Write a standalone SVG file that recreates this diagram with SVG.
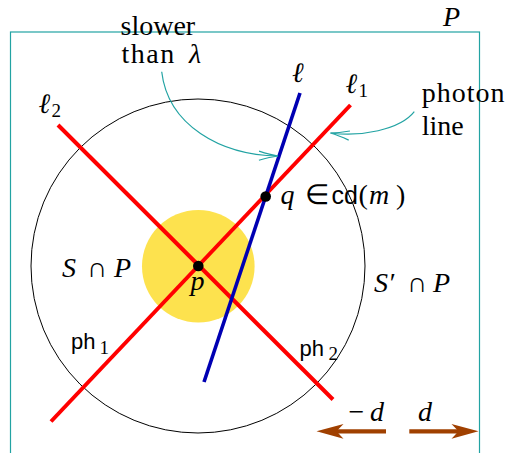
<svg xmlns="http://www.w3.org/2000/svg" width="509" height="453" viewBox="0 0 509 453">
<style>
.sf{font-family:'Liberation Serif','Times New Roman',serif;fill:#000}
.ss{font-family:'Liberation Sans',Arial,sans-serif;fill:#000}
.it{font-style:italic}
.teal{fill:none;stroke:#22a3a3;stroke-width:1.2}
.red{stroke:#ff0000;stroke-width:4;fill:none}
.blue{stroke:#0000b3;stroke-width:3.6;fill:none}
.brown{stroke:#a04000;stroke-width:4.2;fill:none}
.head{fill:#a04000}
.dot{fill:#000}
</style>
<defs>
<marker id="tealhead" markerUnits="userSpaceOnUse" markerWidth="30" markerHeight="20" viewBox="-22 -10 30 20" refX="0" refY="0" orient="auto">
<path d="M-19,-4.6 Q-8,-1.2 0,0 Q-8,1.2 -19,4.6" fill="none" stroke="#22a3a3" stroke-width="1.2"/>
</marker>
</defs>
<rect width="509" height="453" fill="#fff"/>

<g id="plane">
<rect x="10.5" y="32" width="469" height="440" fill="none" stroke="#22a3a3" stroke-width="1.2"/>
<text class="sf it" x="443" y="26" font-size="28">P</text>
</g>

<g id="outer-circle">
<circle cx="198" cy="266" r="167" fill="none" stroke="#000" stroke-width="1"/>
<text class="sf" y="277.3" font-size="28"><tspan class="it" x="62">S</tspan><tspan x="87">∩</tspan><tspan class="it" x="114">P</tspan></text>
<text class="sf" y="291.7" font-size="28"><tspan class="it" x="374">S′</tspan><tspan x="407">∩</tspan><tspan class="it" x="433">P</tspan></text>
</g>

<g id="inner-disc">
<circle cx="198.3" cy="266.3" r="56.3" fill="#fde24e"/>
</g>

<g id="connectors">
<line id="l1" class="red" x1="51" y1="421.5" x2="350.5" y2="105"/>
<line id="l2" class="red" x1="58" y1="125" x2="333" y2="399.5"/>
<line id="l" class="blue" x1="300" y1="93" x2="204" y2="382"/>
<path id="slower-arrow" class="teal" d="M161.7,71.7 C168,125 220,155 278,156" marker-end="url(#tealhead)"/>
<path id="photon-arrow" class="teal" d="M414.3,111.7 C400,130 360,137 330.5,133" marker-end="url(#tealhead)"/>
<g id="minus-d">
<line class="brown" x1="386" y1="431.3" x2="335" y2="431.3"/>
<path class="head" d="M316.5,431.3 L343.5,423.9 L336.5,431.3 L343.5,438.7 Z"/>
</g>
<g id="plus-d">
<line class="brown" x1="409.3" y1="431.3" x2="460" y2="431.3"/>
<path class="head" d="M478.5,431.3 L451.5,423.9 L458.5,431.3 L451.5,438.7 Z"/>
</g>
</g>

<g id="point-p">
<circle class="dot" cx="198.3" cy="266" r="5.3"/>
<text class="sf it" x="190.5" y="290" font-size="28">p</text>
</g>

<g id="point-q">
<circle class="dot" cx="265.7" cy="196.5" r="5.3"/>
<text class="sf" y="204.3" font-size="28"><tspan class="it" x="280.5">q</tspan><tspan x="305">∈</tspan><tspan class="ss" x="331.5" font-size="25">cd</tspan><tspan x="358.5">(</tspan><tspan class="it" x="369">m</tspan><tspan x="396">)</tspan></text>
</g>

<g id="label-l">
<text class="sf it" x="292" y="82" font-size="28">ℓ</text>
</g>
<g id="label-l1">
<text class="sf it" x="345.5" y="93" font-size="28">ℓ</text>
<text class="sf" x="358.5" y="97" font-size="19">1</text>
</g>
<g id="label-l2">
<text class="sf it" x="38.5" y="113" font-size="28">ℓ</text>
<text class="sf" x="51.5" y="117.3" font-size="19">2</text>
</g>

<g id="label-slower">
<text class="sf" x="120.5" y="35" font-size="28">slower</text>
<text class="sf" y="63" font-size="28"><tspan x="121.5" letter-spacing="1.5">than</tspan><tspan class="it" x="189">λ</tspan></text>
</g>

<g id="label-photon">
<text class="sf" x="421.7" y="102" font-size="28" letter-spacing="1">photon</text>
<text class="sf" x="421.7" y="135" font-size="28">line</text>
</g>

<g id="label-ph1">
<text class="ss" x="71" y="349.3" font-size="22">ph</text>
<text class="sf" x="99.5" y="353.5" font-size="19">1</text>
</g>
<g id="label-ph2">
<text class="ss" x="299.5" y="356" font-size="22">ph</text>
<text class="sf" x="328.5" y="360" font-size="19">2</text>
</g>

<g id="label-d">
<text class="sf" y="421" font-size="28"><tspan x="348.5">−</tspan><tspan class="it" x="370">d</tspan></text>
<text class="sf it" x="418" y="421" font-size="28">d</text>
</g>
</svg>
